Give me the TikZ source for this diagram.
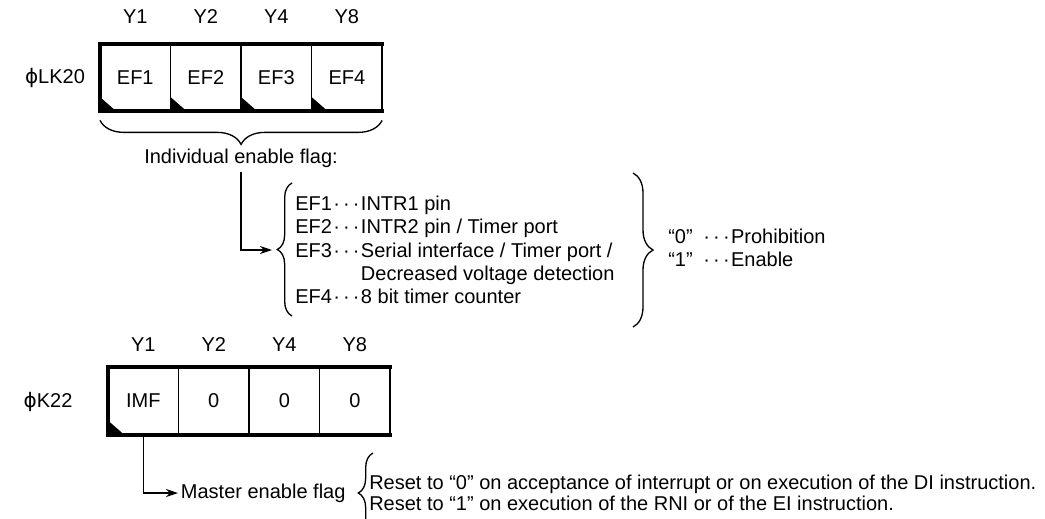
\documentclass[tikz,border=0pt]{standalone}
\usepackage{fontspec}
\setmainfont{Liberation Sans}
\newfontfamily\phifont{DejaVu Sans}
\usepackage{tikz}
\usetikzlibrary{positioning,arrows.meta,decorations.pathreplacing}
\newcommand{\tridot}{\kern1pt·\kern2.4pt·\kern2.4pt·\kern1pt}
\newcommand{\phichar}{{\phifont ϕ}}

\begin{document}
\begin{tikzpicture}[x=0.75pt,y=-0.75pt,
 cell/.style={draw,line width=1.1pt,minimum width=52.9pt,minimum height=50.3pt,inner sep=0pt,outer sep=0pt},
 lbl/.style={inner sep=0pt},
 frame/.style={line width=3pt,line cap=rect,line join=miter},
 edge/.style={line width=2pt,line cap=rect},
 brc/.style={decorate,decoration={brace,amplitude=#1},line width=1pt},
 arr/.style={-{Stealth[length=9pt,width=6pt]},line width=1pt},
 font=\fontsize{15}{17.5}\selectfont]
\useasboundingbox (0,0) rectangle (1045,518);
% upper register
\node[lbl] (lk20) at (55,78) {\phichar LK20};
\node[cell] (ef1) at (135.25,77.5) {EF1};
\node[cell,right=0pt of ef1] (ef2) {EF2};
\node[cell,right=0pt of ef2] (ef3) {EF3};
\node[cell,right=0pt of ef3] (ef4) {EF4};
\node[lbl,above=15pt of ef1] (ua1) {Y1};
\node[lbl,above=15pt of ef2] (ua2) {Y2};
\node[lbl,above=15pt of ef3] (ua4) {Y4};
\node[lbl,above=15pt of ef4] (ua8) {Y8};
\fill (ef1.south west) -- ++(0,-14) -- ++(16,14) -- cycle;
\fill (ef2.south west) -- ++(0,-14) -- ++(16,14) -- cycle;
\fill (ef3.south west) -- ++(0,-14) -- ++(16,14) -- cycle;
\fill (ef4.south west) -- ++(0,-14) -- ++(16,14) -- cycle;
\draw[frame] (ef4.north east) -- (ef1.north west) -- (ef1.south west) -- (ef4.south east);
\draw[edge] (ef4.north east) -- (ef4.south east);
\draw[brc=18pt] ([yshift=-7pt]ef4.south east) -- ([yshift=-7pt]ef1.south west);
\node (indiv) at (241,158) {Individual enable flag:};
% list of the flags
\draw[brc=11pt] (292,316) -- (292,183);
\coordinate (eftip) at (272,250);
\node[anchor=west,align=left,inner sep=0pt] (eflist) at (295,250)
 {EF1\tridot INTR1 pin\\EF2\tridot INTR2 pin / Timer port\\EF3\tridot Serial interface / Timer port /\\
 \phantom{EF3\tridot}Decreased voltage detection\\EF4\tridot 8 bit timer counter};
\draw[arr] (indiv.south) |- (eftip);
\draw[brc=15pt] (633,173) -- (633,327);
\node[anchor=west,inner sep=0pt] (state) at (668,250)
 {\begin{tabular}{@{}l@{\hspace{7pt}}l@{}}“0”&\tridot Prohibition\\“1”&\tridot Enable\end{tabular}};
% lower register
\node[lbl] (k22) at (48,402) {\phichar K22};
\node[cell] (imf) at (143.25,401) {IMF};
\node[cell,right=0pt of imf] (b2) {0};
\node[cell,right=0pt of b2] (b4) {0};
\node[cell,right=0pt of b4] (b8) {0};
\node[lbl,above=12pt of imf] (la1) {Y1};
\node[lbl,above=12pt of b2] (la2) {Y2};
\node[lbl,above=12pt of b4] (la4) {Y4};
\node[lbl,above=12pt of b8] (la8) {Y8};
\fill (imf.south west) -- ++(0,-14) -- ++(16,14) -- cycle;
\draw[frame] (b8.north east) -- (imf.north west) -- (imf.south west) -- (b8.south east);
\draw[edge] (b8.north east) -- (b8.south east);
\node[anchor=west,inner sep=2pt] (master) at (178,493) {Master enable flag};
\draw[arr] (imf.south) |- (master.west);
\draw[brc=11pt] (373,533) -- (373,453);
\node[anchor=west,align=left,inner sep=0pt] (reset) at (369,493)
 {Reset to “0” on acceptance of interrupt or on execution of the DI instruction.\\[-1.5pt]
 Reset to “1” on execution of the RNI or of the EI instruction.};
\end{tikzpicture}
\end{document}
